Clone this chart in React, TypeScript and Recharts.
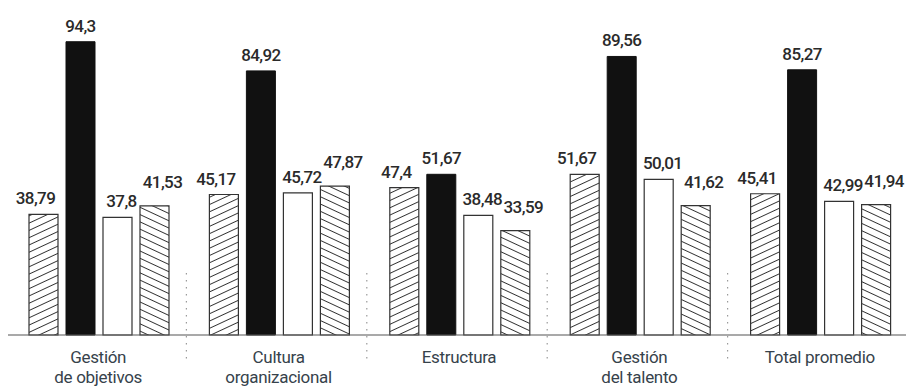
import React from 'react';
import { BarChart, Bar, XAxis, YAxis, LabelList } from 'recharts';

const categories = ['Gestión\nde objetivos', 'Cultura\norganizacional', 'Estructura', 'Gestión\ndel talento', 'Total promedio'];
const serieA = [38.79, 45.17, 47.4, 51.67, 45.41];
const serieB = [94.3, 84.92, 51.67, 89.56, 85.27];
const serieC = [37.8, 45.72, 38.48, 50.01, 42.99];
const serieD = [41.53, 47.87, 33.59, 41.62, 41.94];

const data = categories.map((name, i) => ({
  name,
  a: serieA[i],
  b: serieB[i],
  c: serieC[i],
  d: serieD[i],
}));

const fmt = (v: any) => String(v).replace('.', ',');

// value label drawn above the bar, nudged sideways so neighbours don't collide
const makeLabel = (dx: number, lift: number) => (p: any) => {
  const { x, y, width, value } = p;
  return (
    <text
      x={Number(x) + Number(width) / 2 + dx}
      y={Number(y) - lift}
      textAnchor="middle"
      fontFamily="Roboto, sans-serif"
      fontSize={17}
      fontWeight={500}
      letterSpacing={-0.6}
      fill="#2a2a2a"
    >
      {fmt(value)}
    </text>
  );
};

function CategoryTick(props: any) {
  const { x, y, payload, index } = props;
  const lines = String(payload.value).split('\n');
  const half = payload.offset ?? 90;
  return (
    <g>
      {index < categories.length - 1 && (
        <line x1={x + half - 2} x2={x + half - 2} y1={y - 62} y2={y + 26} stroke="#9a9a9a" strokeWidth={1.2} strokeDasharray="1.5 5.5" />
      )}
      <text x={x} y={y} textAnchor="middle" fontFamily="Roboto, sans-serif" fontSize={17} letterSpacing={-0.3} fill="#36424b">
        {lines.map((l, i) => (
          <tspan key={i} x={x} dy={i === 0 ? 28 : 20}>{l}</tspan>
        ))}
      </text>
    </g>
  );
}

export default function App() {
  return (
    <div style={{ position: 'absolute', left: 0, top: 0, width: 906, height: 388, overflow: 'hidden', background: '#fff' }}>
      <BarChart width={910} height={388} data={data} margin={{ top: 24, right: 0, left: 8, bottom: 0 }} barCategoryGap={21} barGap={8}>
        <defs>
          <pattern id="hatchA" patternUnits="userSpaceOnUse" width={10} height={6.6} patternTransform="rotate(-25)">
            <line x1={0} y1={3.3} x2={10} y2={3.3} stroke="#333" strokeWidth={1} />
          </pattern>
          <pattern id="hatchD" patternUnits="userSpaceOnUse" width={10} height={6.6} patternTransform="rotate(25)">
            <line x1={0} y1={3.3} x2={10} y2={3.3} stroke="#333" strokeWidth={1} />
          </pattern>
        </defs>
        <XAxis
          dataKey="name"
          axisLine={{ stroke: '#555', strokeWidth: 1.2 }}
          tickLine={false}
          tickSize={0}
          tickMargin={0}
          height={53}
          interval={0}
          tick={<CategoryTick />}
        />
        <YAxis hide domain={[0, 100]} />
        <Bar dataKey="a" fill="url(#hatchA)" stroke="#333" strokeWidth={1.2} isAnimationActive={false}>
          <LabelList dataKey="a" content={makeLabel(-8, 10)} />
        </Bar>
        <Bar dataKey="b" fill="#111" stroke="#111" strokeWidth={1} isAnimationActive={false}>
          <LabelList dataKey="b" content={makeLabel(0, 10)} />
        </Bar>
        <Bar dataKey="c" fill="#fff" stroke="#333" strokeWidth={1.2} isAnimationActive={false}>
          <LabelList dataKey="c" content={makeLabel(4, 10)} />
        </Bar>
        <Bar dataKey="d" fill="url(#hatchD)" stroke="#333" strokeWidth={1.2} isAnimationActive={false}>
          <LabelList dataKey="d" content={makeLabel(8, 18)} />
        </Bar>
      </BarChart>
    </div>
  );
}
